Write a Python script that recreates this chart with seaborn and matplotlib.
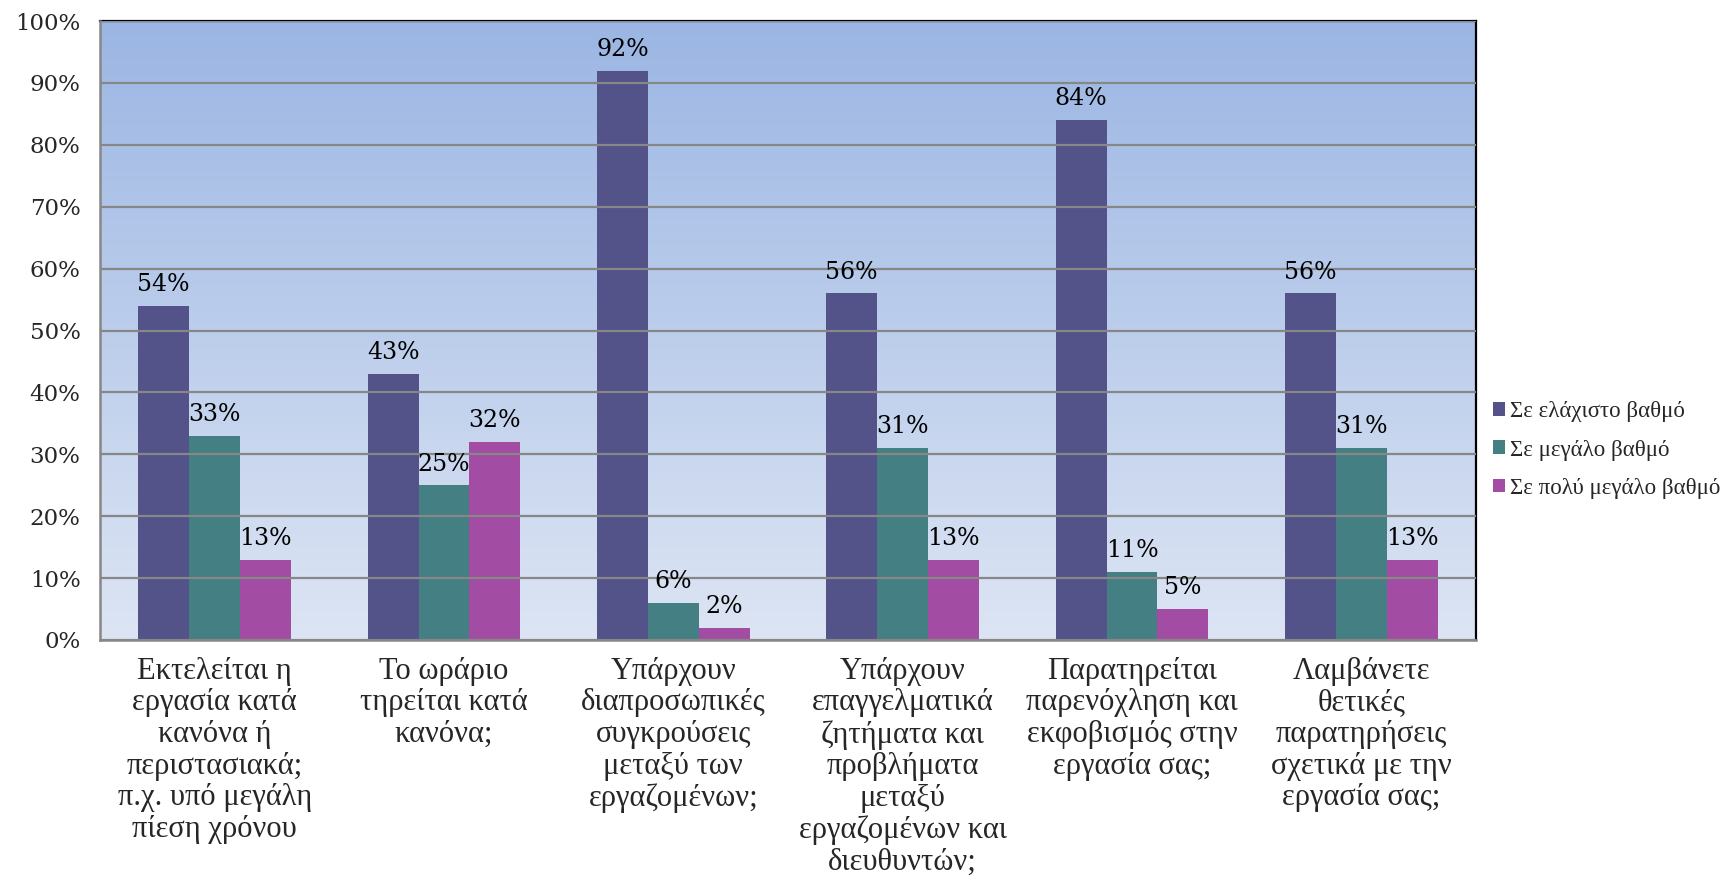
import numpy as np
import pandas as pd
import matplotlib
matplotlib.use("Agg")
import matplotlib.pyplot as plt
import seaborn as sns

categories = [
    "Εκτελείται η\nεργασία κατά\nκανόνα ή\nπεριστασιακά;\nπ.χ. υπό μεγάλη\nπίεση χρόνου",
    "Το ωράριο\nτηρείται κατά\nκανόνα;",
    "Υπάρχουν\nδιαπροσωπικές\nσυγκρούσεις\nμεταξύ των\nεργαζομένων;",
    "Υπάρχουν\nεπαγγελματικά\nζητήματα και\nπροβλήματα\nμεταξύ\nεργαζομένων και\nδιευθυντών;",
    "Παρατηρείται\nπαρενόχληση και\nεκφοβισμός στην\nεργασία σας;",
    "Λαμβάνετε\nθετικές\nπαρατηρήσεις\nσχετικά με την\nεργασία σας;",
]
series = ["Σε ελάχιστο βαθμό", "Σε μεγάλο βαθμό", "Σε πολύ μεγάλο βαθμό"]
least = [54, 43, 92, 56, 84, 56]
large = [33, 25, 6, 31, 11, 31]
very_large = [13, 32, 2, 13, 5, 13]
yticks = [0, 10, 20, 30, 40, 50, 60, 70, 80, 90, 100]

colors = ["#535389", "#437F83", "#A24DA3"]

rows = []
for s, vals in zip(series, [least, large, very_large]):
    for c, v in zip(categories, vals):
        rows.append({"cat": c, "series": s, "val": v})
df = pd.DataFrame(rows)

sns.set_style("white")
SERIF = ["Liberation Serif", "DejaVu Serif"]
W, H, DPI = 1727, 889, 100
fig = plt.figure(figsize=(W / DPI, H / DPI), dpi=DPI)
ax = fig.add_axes([100 / W, 1 - 640 / H, (1476 - 100) / W, (640 - 21) / H])

# gradient background
grad = np.linspace(0, 1, 256).reshape(-1, 1)
top = np.array([155, 182, 227]) / 255
bot = np.array([221, 229, 244]) / 255
img = (top[None, None, :] * (1 - grad[:, :, None]) + bot[None, None, :] * grad[:, :, None])
ax.imshow(img, extent=[0, 1, 0, 1], transform=ax.transAxes, aspect="auto", zorder=0)

sns.barplot(data=df, x="cat", y="val", hue="series", palette=colors, width=2 / 3,
            saturation=1, gap=0, ax=ax, zorder=2, errorbar=None, linewidth=0,
            edgecolor="none")

ax.set_xlim(-0.5, len(categories) - 0.5)
ax.set_ylim(0, 100)
ax.set_yticks(yticks)
ax.set_yticklabels([f"{v}%" for v in yticks], family="DejaVu Serif", fontsize=16.5)
ax.grid(axis="y", color="#878787", linewidth=1.6, zorder=1)
ax.grid(axis="x", visible=False)
ax.set_axisbelow(False)
for line in ax.get_ygridlines():
    line.set_zorder(1)

ax.set_xticks(range(len(categories)))
ax.set_xticklabels(categories, family=SERIF, fontsize=22, linespacing=1.12)
ax.set_xticks(np.arange(-0.5, len(categories), 1), minor=True)
ax.tick_params(axis="x", which="major", length=0, pad=12)
ax.tick_params(axis="x", which="minor", length=10, width=1.5, color="#878787", direction="out")
ax.tick_params(axis="y", length=8, width=1.5, color="#878787", direction="out", pad=6)
ax.set_xlabel("")
ax.set_ylabel("")

for sp in ["left", "bottom"]:
    ax.spines[sp].set_color("#878787")
    ax.spines[sp].set_linewidth(1.8)
    ax.spines[sp].set_zorder(3)
for sp in ["top", "right"]:
    ax.spines[sp].set_color("black")
    ax.spines[sp].set_linewidth(1.6)

for cont in ax.containers:
    vals = [int(round(b.get_height())) for b in cont]
    ax.bar_label(cont, labels=[f"{v}%" for v in vals], padding=7,
                 family="DejaVu Serif", fontsize=17, color="black")

handles, labels = ax.get_legend_handles_labels()
if ax.get_legend() is not None:
    ax.get_legend().remove()
fig.legend(handles, labels, loc="center left", bbox_to_anchor=(1472 / W, 1 - 450 / H),
           bbox_transform=fig.transFigure, frameon=False,
           prop={"family": SERIF, "size": 16.5},
           handlelength=0.55, handleheight=0.55, handletextpad=0.2, labelspacing=0.75)

fig.savefig("out.png", dpi=DPI)
